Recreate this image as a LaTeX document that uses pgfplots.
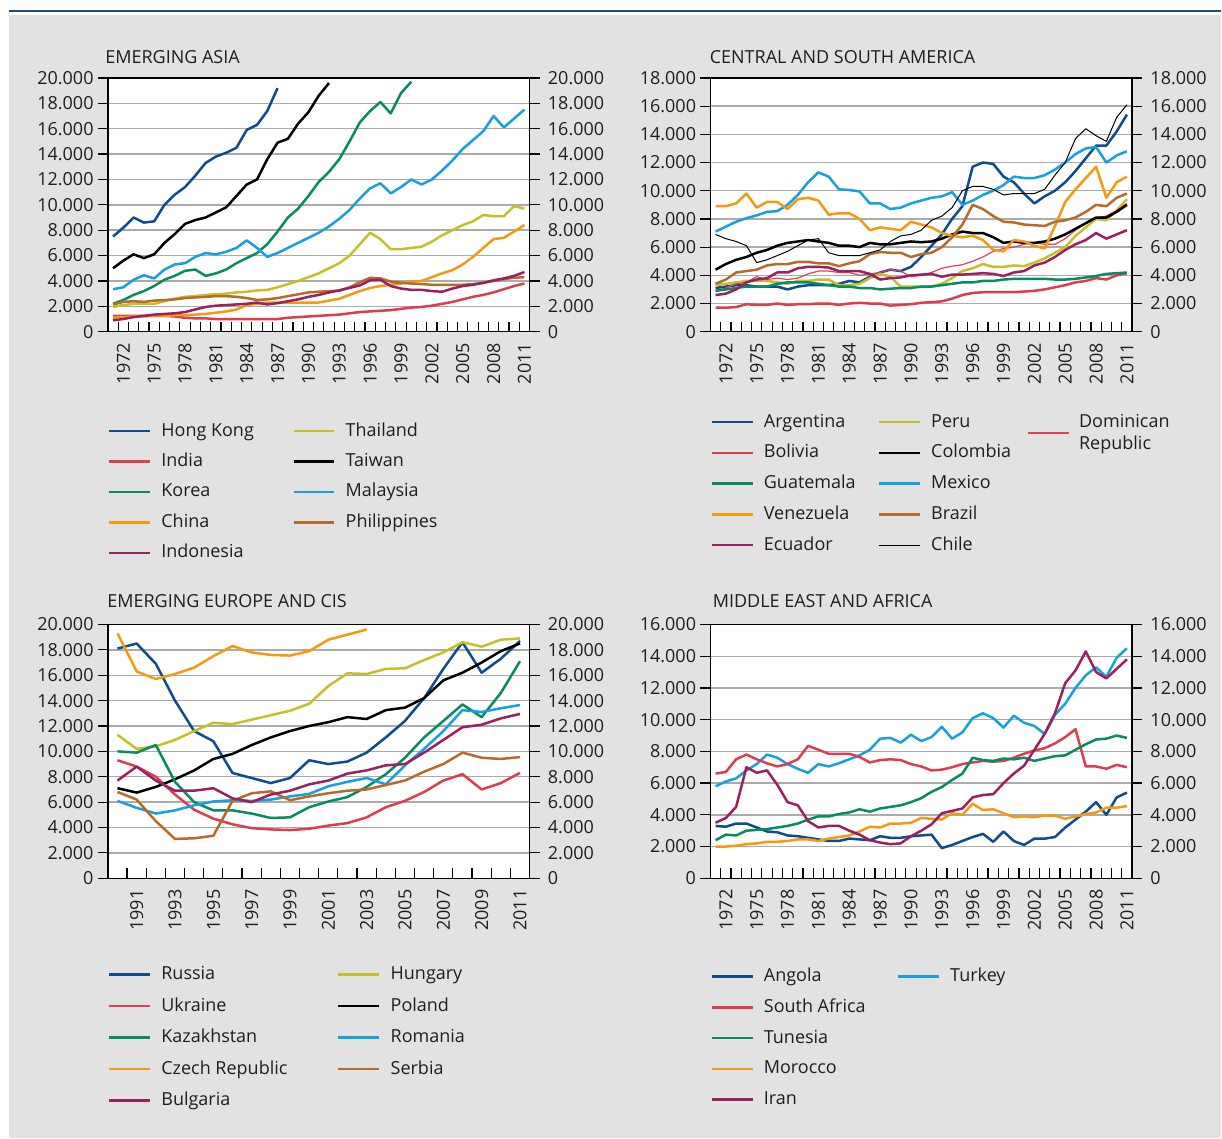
\documentclass[border=0pt]{standalone}
\usepackage{pgfplots}
\pgfplotsset{compat=1.18}
\usepackage{pgfplotstable}
\usepackage{fontspec}
\setmainfont{Open Sans}
\newcommand\fs{\fontsize{9pt}{11pt}\selectfont}
\definecolor{cDB}{HTML}{0E4C8C}
\definecolor{cRD}{HTML}{E03C50}
\definecolor{cGR}{HTML}{078C60}
\definecolor{cOR}{HTML}{F39A12}
\definecolor{cPU}{HTML}{9A2060}
\definecolor{cOL}{HTML}{C8BE28}
\definecolor{cLB}{HTML}{16A0DF}
\definecolor{cBR}{HTML}{B86A28}
\definecolor{cPK}{HTML}{E4405A}
\definecolor{cGrid}{HTML}{ABABAB}
\definecolor{cBG}{HTML}{E2E2E2}
\definecolor{cTop}{HTML}{1E4E8E}
\definecolor{cTxt}{HTML}{1E1E1E}

\pgfplotstableread{
year HK IN KR CN ID TH TW MY PH
1971 7500 1250 2200 1100 900 1950 5000 3350 2150
1972 8200 1250 2500 1150 1000 2100 5600 3500 2350
1973 9000 1250 2900 1200 1150 2200 6100 4100 2400
1974 8600 1250 3200 1200 1250 2200 5800 4450 2350
1975 8700 1250 3600 1250 1350 2200 6100 4200 2450
1976 10000 1250 4100 1250 1400 2400 7000 4900 2500
1977 10800 1200 4400 1300 1450 2600 7700 5300 2550
1978 11400 1100 4800 1300 1550 2750 8500 5400 2650
1979 12300 1050 4900 1350 1750 2800 8800 5900 2700
1980 13300 1050 4400 1400 1950 2900 9000 6200 2750
1981 13800 1000 4600 1500 2050 2950 9400 6100 2800
1982 14100 1000 4900 1600 2100 3000 9800 6300 2800
1983 14500 1000 5400 1750 2150 3100 10700 6600 2750
1984 15900 1000 5800 2100 2200 3150 11600 7200 2650
1985 16300 1000 6200 2200 2300 3250 12000 6600 2500
1986 17400 1000 6900 2300 2150 3300 13600 5900 2550
1987 19200 1000 7900 2300 2250 3500 14900 6200 2650
1988 nan 1100 9000 2300 2400 3750 15200 6600 2800
1989 nan 1150 9700 2300 2550 4000 16400 7000 2950
1990 nan 1200 10700 2300 2750 4300 17300 7400 3100
1991 nan 1250 11800 2300 2900 4600 18600 7800 3150
1992 nan 1300 12600 2450 3100 5000 19600 8300 3200
1993 nan 1350 13600 2600 3250 5400 nan 8900 3250
1994 nan 1450 15000 2900 3450 6000 nan 9600 3500
1995 nan 1550 16500 3200 3650 6900 nan 10500 3900
1996 nan 1600 17400 3450 4050 7800 nan 11300 4250
1997 nan 1650 18100 3600 4100 7300 nan 11700 4200
1998 nan 1700 17200 3700 3600 6500 nan 10900 3950
1999 nan 1800 18800 3800 3400 6500 nan 11400 3850
2000 nan 1900 19700 3950 3300 6600 nan 12000 3800
2001 nan 1950 nan 4000 3300 6700 nan 11600 3750
2002 nan 2050 nan 4300 3200 7100 nan 12000 3700
2003 nan 2200 nan 4600 3150 7600 nan 12700 3700
2004 nan 2350 nan 4850 3400 8000 nan 13500 3700
2005 nan 2550 nan 5300 3600 8400 nan 14400 3700
2006 nan 2750 nan 5900 3700 8700 nan 15100 3750
2007 nan 2900 nan 6600 3850 9200 nan 15800 3850
2008 nan 3100 nan 7300 4050 9100 nan 17000 4000
2009 nan 3350 nan 7400 4200 9100 nan 16100 4150
2010 nan 3600 nan 7900 4400 9900 nan 16800 4250
2011 nan 3800 nan 8400 4700 9700 nan 17500 4300
}\asia

\pgfplotstableread{
year AR BO GT VE EC PE CO MX BR CL DO
1971 3100 1700 2900 8900 2600 3300 4400 7100 3400 6900 2900
1972 3200 1700 3000 8900 2700 3400 4800 7450 3700 6600 3100
1973 3300 1750 3100 9100 3000 3500 5100 7800 4200 6400 3400
1974 3300 1950 3200 9800 3500 3600 5300 8050 4300 6100 3500
1975 3200 1900 3200 8800 3700 3600 5600 8250 4400 4900 3900
1976 3200 1900 3200 9200 3800 3600 5800 8500 4700 5100 3700
1977 3200 2000 3400 9200 4200 3500 6100 8550 4800 5400 3800
1978 3000 1900 3500 8700 4200 3400 6300 9000 4800 5700 3700
1979 3200 1950 3500 9400 4500 3600 6400 9700 4950 6100 3800
1980 3300 1950 3500 9500 4600 3600 6500 10600 4950 6500 4100
1981 3300 2000 3400 9300 4600 3700 6400 11300 4850 6600 4300
1982 3300 2000 3300 8300 4550 3700 6300 11000 4850 5600 4300
1983 3400 1900 3200 8400 4300 3300 6100 10100 4650 5400 4200
1984 3600 2000 3200 8400 4300 3300 6100 10050 4850 5400 4200
1985 3500 2050 3100 8000 4300 3400 6000 9950 5000 5400 4000
1986 3900 2000 3100 7200 4100 3800 6300 9100 5500 5600 4100
1987 4200 2000 3000 7400 3700 4100 6200 9100 5650 5800 4200
1988 4400 1850 3050 7300 3800 3900 6200 8700 5600 6400 4400
1989 4300 1900 3100 7200 3850 3200 6300 8800 5600 6800 4300
1990 4600 1950 3100 7800 4000 3200 6400 9100 5300 6900 3900
1991 5300 2050 3200 7600 4050 3200 6350 9300 5500 7200 4000
1992 6100 2100 3200 7400 4100 3200 6400 9500 5600 7900 4200
1993 6900 2150 3300 7000 3900 3400 6600 9600 6000 8200 4500
1994 8000 2350 3400 6800 4050 3800 6900 9900 6700 8800 4650
1995 8900 2600 3500 6700 4050 4300 7100 9000 7600 10000 4750
1996 11700 2750 3500 6800 4100 4500 7000 9300 9000 10300 5000
1997 12000 2800 3600 6500 4150 4800 7000 9700 8700 10300 5300
1998 11900 2800 3600 5800 4100 4600 6700 10000 8200 10100 5700
1999 11000 2800 3700 5700 3950 4600 6300 10400 7800 9700 5900
2000 10600 2800 3750 6500 4200 4700 6400 11000 7750 9800 6000
2001 9800 2850 3750 6400 4300 4650 6300 10900 7600 9800 6200
2002 9100 2900 3750 6100 4700 4900 6300 10900 7550 9800 6300
2003 9600 3000 3750 5900 4900 5200 6400 11100 7500 10100 6200
2004 10000 3150 3700 7500 5300 5600 6600 11500 7800 11100 6200
2005 10600 3300 3700 9200 5800 6000 6900 12000 7900 12000 6600
2006 11400 3500 3750 10100 6200 6800 7300 12600 8100 13700 7200
2007 12300 3600 3850 10900 6500 7400 7700 13000 8500 14400 7700
2008 13200 3800 3950 11700 7000 8000 8100 13100 9000 13900 8100
2009 13200 3700 4100 9500 6600 7900 8100 12000 8900 13500 8200
2010 14200 4000 4150 10600 6900 8600 8500 12500 9500 15200 8600
2011 15400 4150 4200 11000 7200 9400 9000 12800 9800 16100 9100
}\csa

\pgfplotstableread{
year RU UA KZ CZ BG HU PL RO RS
1990 18100 9300 10000 19300 7700 11300 7100 6100 6800
1991 18500 8800 9900 16300 8800 10200 6750 5550 6200
1992 16900 8000 10500 15700 7700 10400 7200 5100 4500
1993 14000 6600 7600 16100 6900 10900 7800 5350 3100
1994 11600 5400 6000 16600 6900 11600 8500 5750 3150
1995 10800 4700 5350 17500 7100 12250 9400 6050 3350
1996 8300 4250 5350 18300 6300 12150 9800 6150 6100
1997 7900 3950 5100 17800 6000 12500 10500 6100 6700
1998 7500 3850 4750 17600 6600 12850 11100 6200 6850
1999 7900 3800 4800 17550 6900 13200 11600 6450 6150
2000 9300 3900 5600 17900 7400 13750 12000 6650 6450
2001 9000 4150 6050 18800 7700 15150 12300 7250 6700
2002 9200 4350 6400 19200 8250 16150 12700 7600 6900
2003 9900 4800 7200 19600 8500 16100 12550 7900 7000
2004 11100 5600 8200 nan 8900 16500 13250 7400 7350
2005 12400 6100 9500 nan 9000 16550 13450 8900 7700
2006 14200 6800 11100 nan 9900 17200 14200 10200 8400
2007 16500 7700 12400 nan 10900 17800 15600 11600 9000
2008 18600 8200 13700 nan 11900 18600 16200 13250 9900
2009 16200 7000 12700 nan 12100 18250 17000 13100 9500
2010 17300 7500 14600 nan 12600 18800 17900 13400 9400
2011 18700 8300 17100 nan 12950 18900 18500 13650 9550
}\eur

\pgfplotstableread{
year AO ZA TN MA IR TR
1971 3300 6600 2400 2000 3500 5800
1972 3250 6700 2750 2000 3800 6100
1973 3450 7500 2700 2050 4500 6300
1974 3450 7800 3000 2150 7000 6800
1975 3200 7500 3050 2200 6650 7200
1976 2950 7250 3100 2300 6800 7800
1977 2900 7050 3200 2300 5900 7600
1978 2700 7200 3300 2350 4800 7200
1979 2650 7500 3450 2450 4600 6900
1980 2550 8350 3700 2450 3600 6650
1981 2450 8100 3900 2350 3200 7200
1982 2350 7850 3900 2500 3300 7050
1983 2350 7850 4050 2600 3300 7250
1984 2500 7850 4150 2700 3000 7500
1985 2450 7650 4350 2950 2750 7750
1986 2400 7300 4200 3250 2400 8100
1987 2650 7450 4400 3200 2250 8800
1988 2550 7500 4500 3450 2150 8850
1989 2550 7450 4600 3450 2200 8550
1990 2650 7200 4800 3500 2650 9050
1991 2700 7050 5050 3800 3000 8650
1992 2750 6800 5450 3750 3400 8900
1993 1900 6850 5750 3700 4100 9550
1994 2100 7000 6200 4100 4250 8800
1995 2350 7200 6600 4000 4400 9200
1996 2600 7300 7600 4700 5100 10100
1997 2800 7400 7450 4300 5250 10400
1998 2300 7350 7400 4350 5300 10100
1999 2950 7400 7550 4100 6000 9500
2000 2350 7600 7500 3850 6600 10250
2001 2100 7850 7600 3900 7100 9800
2002 2500 8050 7400 3850 8100 9600
2003 2500 8200 7550 3950 9100 9100
2004 2600 8500 7700 3950 10400 10300
2005 3200 8900 7750 3750 12300 11000
2006 3700 9400 8100 3900 13100 12000
2007 4200 7050 8450 4050 14300 12800
2008 4800 7050 8750 4150 13000 13300
2009 4000 6900 8800 4450 12600 12700
2010 5100 7150 9000 4450 13200 13900
2011 5400 7000 8850 4550 13800 14500
}\mea

\pgfplotsset{
  panel/.style={
    scale only axis, width=211pt, height=127pt, anchor=south west,
    axis background/.style={fill=white},
    axis line style={black,line width=0.6pt},
    tick align=inside, major tick length=0pt, minor tick length=5pt,
    xtick pos=left, ytick pos=left,
    scaled y ticks=false, scaled x ticks=false,
    minor tick style={black,line width=0.6pt},
    ymajorgrids, major grid style={cGrid,line width=0.7pt},
    ymin=0,
    tick label style={font=\fs, text=cTxt},
    xticklabel style={rotate=90, anchor=east, inner sep=0pt},
    xticklabel shift=5.5pt,
    yticklabel style={inner sep=0pt, anchor=east},
    yticklabel shift=7pt,
    every axis title shift=0pt,
    title style={at={(0,1)}, anchor=base west, inner sep=0pt, font=\fs, text=cTxt},
    legend cell align=left,
    legend image code/.code={\draw[##1] (0pt,0pt) -- (20.5pt,0pt);},
    legend style={draw=none, fill=none, inner sep=0pt, outer sep=0pt,
      at={(0,0)}, anchor=north west, font=\fs, text=cTxt,
      nodes={inner sep=0pt, text height=7pt, text depth=2pt},
      /tikz/every odd column/.style={column sep=5pt}},
    every axis plot/.append style={line width=1.25pt, line join=round},
  },
  domimg/.style={legend image code/.code={\path[draw=none] (0pt,0pt) -- (20.5pt,0pt); \draw[overlay, color=cPK, draw=cPK, line width=0.7pt] (0pt,-5.5pt) -- (20.5pt,-5.5pt);}},
  rightax/.style={
    scale only axis, width=211pt, height=127pt, anchor=south west,
    hide x axis, tick align=outside, major tick length=5pt, ymin=0,
    scaled y ticks=false,
    yticklabel pos=right, ytick style={black,line width=0.6pt},
    axis line style={black,line width=0.6pt},
    tick label style={font=\fs, text=cTxt},
    yticklabel style={inner sep=0pt},
    yticklabel shift=4pt,
  },
  longx/.style={xmin=1970.5, xmax=2011.5,
    xtick={1972,1975,1978,1981,1984,1987,1990,1993,1996,1999,2002,2005,2008,2011},
    xticklabels={1972,1975,1978,1981,1984,1987,1990,1993,1996,1999,2002,2005,2008,2011},
    minor xtick={1971.5,1972.5,...,2010.5}},
  shortx/.style={xmin=1989.5, xmax=2011.5,
    xtick={1991,1993,1995,1997,1999,2001,2003,2005,2007,2009,2011},
    xticklabels={1991,1993,1995,1997,1999,2001,2003,2005,2007,2009,2011},
    minor xtick={1990.5,1991.5,...,2010.5}},
  y20/.style={ymax=20000, ytick={0,2000,...,20000},
    yticklabels={0,2.000,4.000,6.000,8.000,10.000,12.000,14.000,16.000,18.000,20.000}},
  y18/.style={ymax=18000, ytick={0,2000,...,18000},
    yticklabels={0,2.000,4.000,6.000,8.000,10.000,12.000,14.000,16.000,18.000}},
  y16/.style={ymax=16000, ytick={0,2000,...,16000},
    yticklabels={0,2.000,4.000,6.000,8.000,10.000,12.000,14.000,16.000}},
}

\begin{document}
\begin{tikzpicture}
\fill[white] (0pt,0pt) rectangle (611pt,569.5pt);
\fill[cBG] (4.5pt,0pt) rectangle (611pt,562pt);
\draw[cTop,line width=1pt] (4.5pt,564pt) -- (611pt,564pt);

% ---------------- EMERGING ASIA ----------------
\begin{axis}[panel, longx, y20, at={(54pt,403.5pt)},
  title={EMERGING ASIA}, title style={yshift=7.3pt, xshift=-1.5pt},
  legend columns=2,
  legend style={yshift=-45.2pt, row sep=6.25pt}]
\addplot[cDB] table[x=year,y=HK]{\asia}; \addlegendentry{\makebox[65.5pt][l]{Hong Kong}}
\addplot[cOL] table[x=year,y=TH]{\asia}; \addlegendentry{Thailand}
\addplot[cRD] table[x=year,y=IN]{\asia}; \addlegendentry{\makebox[65.5pt][l]{India}}
\addplot[black] table[x=year,y=TW]{\asia}; \addlegendentry{Taiwan}
\addplot[cGR] table[x=year,y=KR]{\asia}; \addlegendentry{\makebox[65.5pt][l]{Korea}}
\addplot[cLB] table[x=year,y=MY]{\asia}; \addlegendentry{Malaysia}
\addplot[cOR] table[x=year,y=CN]{\asia}; \addlegendentry{\makebox[65.5pt][l]{China}}
\addplot[cBR] table[x=year,y=PH]{\asia}; \addlegendentry{Philippines}
\addplot[cPU] table[x=year,y=ID]{\asia}; \addlegendentry{\makebox[65.5pt][l]{Indonesia}}
\end{axis}
\begin{axis}[rightax, longx, y20, at={(54pt,403.5pt)}]
\end{axis}

% ---------------- CENTRAL AND SOUTH AMERICA ----------------
\begin{axis}[panel, longx, y18, at={(355.5pt,403.5pt)},
  title={CENTRAL AND SOUTH AMERICA}, title style={yshift=7.3pt, xshift=-0.5pt},
  legend columns=3,
  legend style={yshift=-40.7pt, row sep=6.4pt}]
\addplot[cDB] table[x=year,y=AR]{\csa}; \addlegendentry{\makebox[57pt][l]{Argentina}}
\addplot[cOL] table[x=year,y=PE]{\csa}; \addlegendentry{\makebox[48.5pt][l]{Peru}}
\addplot[cPK, line width=0.6pt, domimg] table[x=year,y=DO]{\csa};
  \addlegendentry{\smash{\begin{tabular}[t]{@{}l@{}}Dominican\\Republic\end{tabular}}}
\addplot[cRD] table[x=year,y=BO]{\csa}; \addlegendentry{\makebox[57pt][l]{Bolivia}}
\addplot[black] table[x=year,y=CO]{\csa}; \addlegendentry{\makebox[48.5pt][l]{Colombia}}
\addlegendimage{empty legend}\addlegendentry{}
\addplot[cGR] table[x=year,y=GT]{\csa}; \addlegendentry{\makebox[57pt][l]{Guatemala}}
\addplot[cLB] table[x=year,y=MX]{\csa}; \addlegendentry{\makebox[48.5pt][l]{Mexico}}
\addlegendimage{empty legend}\addlegendentry{}
\addplot[cOR] table[x=year,y=VE]{\csa}; \addlegendentry{\makebox[57pt][l]{Venezuela}}
\addplot[cBR] table[x=year,y=BR]{\csa}; \addlegendentry{\makebox[48.5pt][l]{Brazil}}
\addlegendimage{empty legend}\addlegendentry{}
\addplot[cPU] table[x=year,y=EC]{\csa}; \addlegendentry{\makebox[57pt][l]{Ecuador}}
\addplot[black, line width=0.5pt] table[x=year,y=CL]{\csa}; \addlegendentry{\makebox[48.5pt][l]{Chile}}
\end{axis}
\begin{axis}[rightax, longx, y18, at={(355.5pt,403.5pt)}]
\end{axis}

% ---------------- EMERGING EUROPE AND CIS ----------------
\begin{axis}[panel, shortx, y20, at={(54pt,130pt)},
  title={EMERGING EUROPE AND CIS}, title style={yshift=8.3pt, xshift=-0.5pt},
  legend columns=2,
  legend style={yshift=-43.7pt, row sep=6.75pt}]
\addplot[cDB] table[x=year,y=RU]{\eur}; \addlegendentry{\makebox[88pt][l]{Russia}}
\addplot[cOL] table[x=year,y=HU]{\eur}; \addlegendentry{Hungary}
\addplot[cRD] table[x=year,y=UA]{\eur}; \addlegendentry{\makebox[88pt][l]{Ukraine}}
\addplot[black] table[x=year,y=PL]{\eur}; \addlegendentry{Poland}
\addplot[cGR] table[x=year,y=KZ]{\eur}; \addlegendentry{\makebox[88pt][l]{Kazakhstan}}
\addplot[cLB] table[x=year,y=RO]{\eur}; \addlegendentry{Romania}
\addplot[cOR] table[x=year,y=CZ]{\eur}; \addlegendentry{\makebox[88pt][l]{Czech Republic}}
\addplot[cBR] table[x=year,y=RS]{\eur}; \addlegendentry{Serbia}
\addplot[cPU] table[x=year,y=BG]{\eur}; \addlegendentry{\makebox[88pt][l]{Bulgaria}}
\end{axis}
\begin{axis}[rightax, shortx, y20, at={(54pt,130pt)}]
\end{axis}

% ---------------- MIDDLE EAST AND AFRICA ----------------
\begin{axis}[panel, longx, y16, at={(355.5pt,130pt)},
  title={MIDDLE EAST AND AFRICA}, title style={yshift=8.3pt, xshift=1pt},
  legend columns=2,
  legend style={yshift=-44.7pt, row sep=6.4pt}]
\addplot[cDB] table[x=year,y=AO]{\mea}; \addlegendentry{\makebox[66.5pt][l]{Angola}}
\addplot[cLB] table[x=year,y=TR]{\mea}; \addlegendentry{Turkey}
\addplot[cRD] table[x=year,y=ZA]{\mea}; \addlegendentry{\makebox[66.5pt][l]{South Africa}}
\addlegendimage{empty legend}\addlegendentry{}
\addplot[cGR] table[x=year,y=TN]{\mea}; \addlegendentry{\makebox[66.5pt][l]{Tunesia}}
\addlegendimage{empty legend}\addlegendentry{}
\addplot[cOR] table[x=year,y=MA]{\mea}; \addlegendentry{\makebox[66.5pt][l]{Morocco}}
\addlegendimage{empty legend}\addlegendentry{}
\addplot[cPU] table[x=year,y=IR]{\mea}; \addlegendentry{\makebox[66.5pt][l]{Iran}}
\end{axis}
\begin{axis}[rightax, longx, y16, at={(355.5pt,130pt)}]
\end{axis}
\end{tikzpicture}
\end{document}
